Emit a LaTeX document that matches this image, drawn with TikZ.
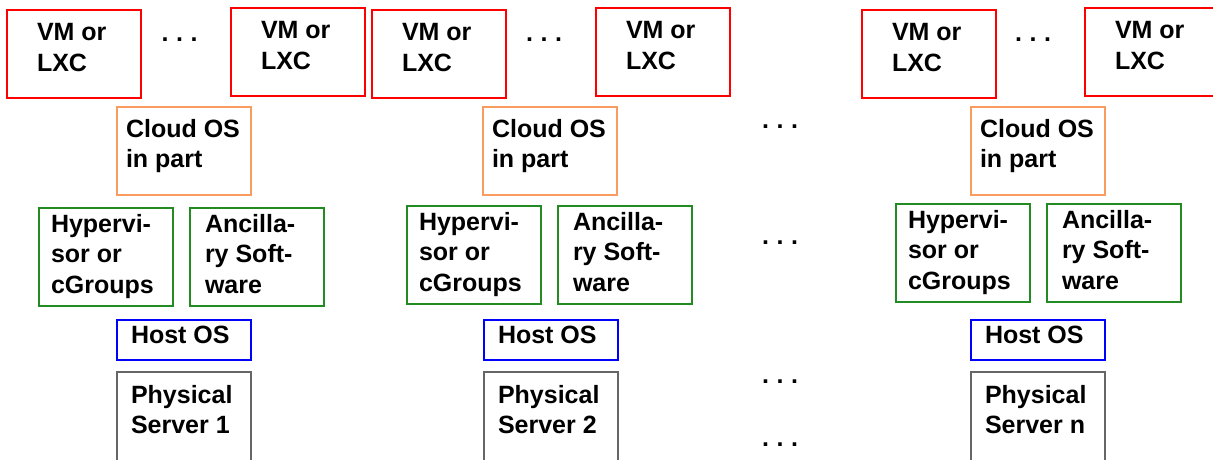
\documentclass[tikz,border=0pt]{standalone}
\usepackage{fontspec}
\setmainfont{Liberation Sans}

% box label font: bold sans, fixed leading
\newcommand\labelfont{\fontsize{25}{30.7}\selectfont\bfseries}
% left-indented, top-aligned label block inside a 134pt wide box
\newcommand\cellt[2]{\hspace*{#1}\parbox[t]{\dimexpr134pt-#1\relax}{\raggedright #2}}
% three spaced dots
\newcommand\gapdots{.\kern7.5pt.\kern7.5pt.}

\definecolor{vmred}{RGB}{255,0,0}
\definecolor{cloudorange}{RGB}{250,155,95}
\definecolor{swgreen}{RGB}{34,139,34}
\definecolor{hostblue}{RGB}{0,0,255}
\definecolor{hwgray}{RGB}{102,102,102}

\tikzset{
  layerbox/.style={draw, line width=2pt, inner sep=0pt, outer sep=0pt,
    anchor=north west, font=\labelfont},
  vm/.style={layerbox, draw=vmred, text height=30.5pt, text depth=57.5pt},
  cloud/.style={layerbox, draw=cloudorange, text height=30pt, text depth=58pt},
  hyp/.style={layerbox, draw=swgreen, text height=24pt, text depth=74pt},
  host/.style={layerbox, draw=hostblue, text height=23pt, text depth=17pt},
  phys/.style={layerbox, draw=hwgray, text height=31pt, text depth=89pt},
  dotrow/.style={inner sep=0pt, outer sep=0pt, anchor=base west, font=\labelfont}
}

\begin{document}
\begin{tikzpicture}[x=1pt, y=-1pt]
\useasboundingbox (0,0) rectangle (1213,460);

% ---- server 1 ----
\node[vm]    (vm1a)  at (7,10)    {\cellt{30pt}{VM or\\LXC}};
\node[vm]    (vm1b)  at (231,8)   {\cellt{30pt}{VM or\\LXC}};
\node[dotrow] (d1)   at (161.7,42) {\gapdots};
\node[cloud] (cl1)   at (117,107) {\cellt{9pt}{Cloud OS\\in part}};
\node[hyp]   (hy1)   at (39,208)  {\cellt{12pt}{Hypervi-\\sor or\\cGroups}};
\node[hyp]   (an1)   at (190,208) {\cellt{15pt}{Ancilla-\\ry Soft-\\ware}};
\node[host]  (ho1)   at (117,320) {\cellt{14pt}{Host OS}};
\node[phys]  (ps1)   at (117,372) {\cellt{14pt}{Physical\\Server 1}};

% ---- server 2 ----
\node[vm]    (vm2a)  at (372,10)  {\cellt{30pt}{VM or\\LXC}};
\node[vm]    (vm2b)  at (596,8)   {\cellt{30pt}{VM or\\LXC}};
\node[dotrow] (d2)   at (526.2,42) {\gapdots};
\node[cloud] (cl2)   at (483,107) {\cellt{9pt}{Cloud OS\\in part}};
\node[hyp]   (hy2)   at (407,206) {\cellt{12pt}{Hypervi-\\sor or\\cGroups}};
\node[hyp]   (an2)   at (558,206) {\cellt{15pt}{Ancilla-\\ry Soft-\\ware}};
\node[host]  (ho2)   at (484,320) {\cellt{14pt}{Host OS}};
\node[phys]  (ps2)   at (484,372) {\cellt{14pt}{Physical\\Server 2}};

% ---- elided servers ----
\node[dotrow] (m1) at (762.2,128) {\gapdots};
\node[dotrow] (m2) at (762.2,244) {\gapdots};
\node[dotrow] (m3) at (762.2,383) {\gapdots};
\node[dotrow] (m4) at (762.2,446) {\gapdots};

% ---- server n ----
\node[vm]    (vm3a)  at (862,10)   {\cellt{30pt}{VM or\\LXC}};
\node[vm]    (vm3b)  at (1085,8)   {\cellt{30pt}{VM or\\LXC}};
\node[dotrow] (d3)   at (1015.2,42) {\gapdots};
\node[cloud] (cl3)   at (971,107)  {\cellt{9pt}{Cloud OS\\in part}};
\node[hyp]   (hy3)   at (896,204)  {\cellt{12pt}{Hypervi-\\sor or\\cGroups}};
\node[hyp]   (an3)   at (1047,204) {\cellt{15pt}{Ancilla-\\ry Soft-\\ware}};
\node[host]  (ho3)   at (971,320)  {\cellt{14pt}{Host OS}};
\node[phys]  (ps3)   at (971,372)  {\cellt{14pt}{Physical\\Server n}};
\end{tikzpicture}
\end{document}
